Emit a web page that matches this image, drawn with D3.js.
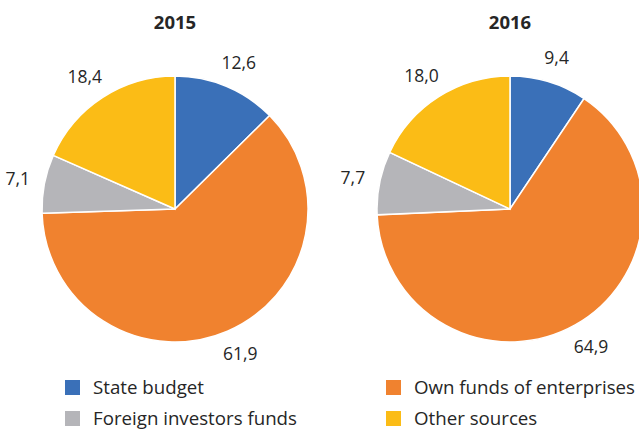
<!DOCTYPE html>
<html>
<head>
<meta charset="utf-8">
<script src="https://cdn.jsdelivr.net/npm/d3@7"></script>
<style>
  body { margin: 0; background: #fff; }
  text { font-family: "Open Sans", "Noto Sans", sans-serif; fill: #262626; }
</style>
</head>
<body>
<div class="chart"></div>
<script>
var categories = ["State budget", "Own funds of enterprises", "Foreign investors funds", "Other sources"];
var years = ["2015", "2016"];
var values2015 = [12.6, 61.9, 7.1, 18.4];
var values2016 = [9.4, 64.9, 7.7, 18.0];
var colors = ["#3A70B8", "#F0822F", "#B5B5B9", "#FBBC16"];

var width = 639, height = 429,
    radius = 133,
    gap = 15;

var svg = d3.select(".chart").append("svg")
    .attr("width", width)
    .attr("height", height);

var color = d3.scaleOrdinal().domain(categories).range(colors);
var pie = d3.pie().sort(null).value(function(d) { return d.v; });
var arc = d3.arc().innerRadius(0).outerRadius(radius);
var fmt = function(v) { return d3.format(".1f")(v).replace(".", ","); };

var centers = d3.scalePoint().domain(years).range([175, 510]);
var series = [values2015, values2016];

years.forEach(function(year, k) {
    var rows = categories.map(function(c, i) { return {c: c, v: series[k][i]}; });
    var g = svg.append("g")
        .attr("transform", "translate(" + centers(year) + ",209)");

    g.selectAll("path")
        .data(pie(rows))
        .enter().append("path")
        .attr("d", arc)
        .style("fill", function(d) { return color(d.data.c); })
        .style("stroke", "#fff")
        .style("stroke-width", 1.5);

    // labels sit just outside the rim, pushed out by half their box
    g.selectAll("text.val")
        .data(pie(rows))
        .enter().append("text")
        .attr("class", "val")
        .attr("dy", "0.35em")
        .style("text-anchor", "middle")
        .style("font-size", "17.5px")
        .text(function(d) { return fmt(d.data.v); })
        .each(function(d) {
            var a = (d.startAngle + d.endAngle) / 2,
                dx = Math.sin(a), dy = -Math.cos(a),
                bb = this.getBBox();
            d3.select(this)
                .attr("x", dx * (radius + gap + bb.width / 2))
                .attr("y", dy * (radius + gap + bb.height / 2 - 2));
        });

    svg.append("text")
        .attr("x", centers(year))
        .attr("y", 29)
        .style("text-anchor", "middle")
        .style("font-size", "18.5px")
        .style("font-weight", "bold")
        .text(year);
});

// legend, two columns
var legendX = [65, 386], legendY = [380, 411];
var legend = svg.selectAll("g.legend")
    .data(categories)
    .enter().append("g")
    .attr("class", "legend")
    .attr("transform", function(d, i) {
        return "translate(" + legendX[i % 2] + "," + legendY[Math.floor(i / 2)] + ")";
    });

legend.append("rect")
    .attr("width", 15)
    .attr("height", 15)
    .style("fill", function(d) { return color(d); });

legend.append("text")
    .attr("x", 28)
    .attr("y", 13.5)
    .style("font-size", "18.7px")
    .text(String);
</script>
</body>
</html>
